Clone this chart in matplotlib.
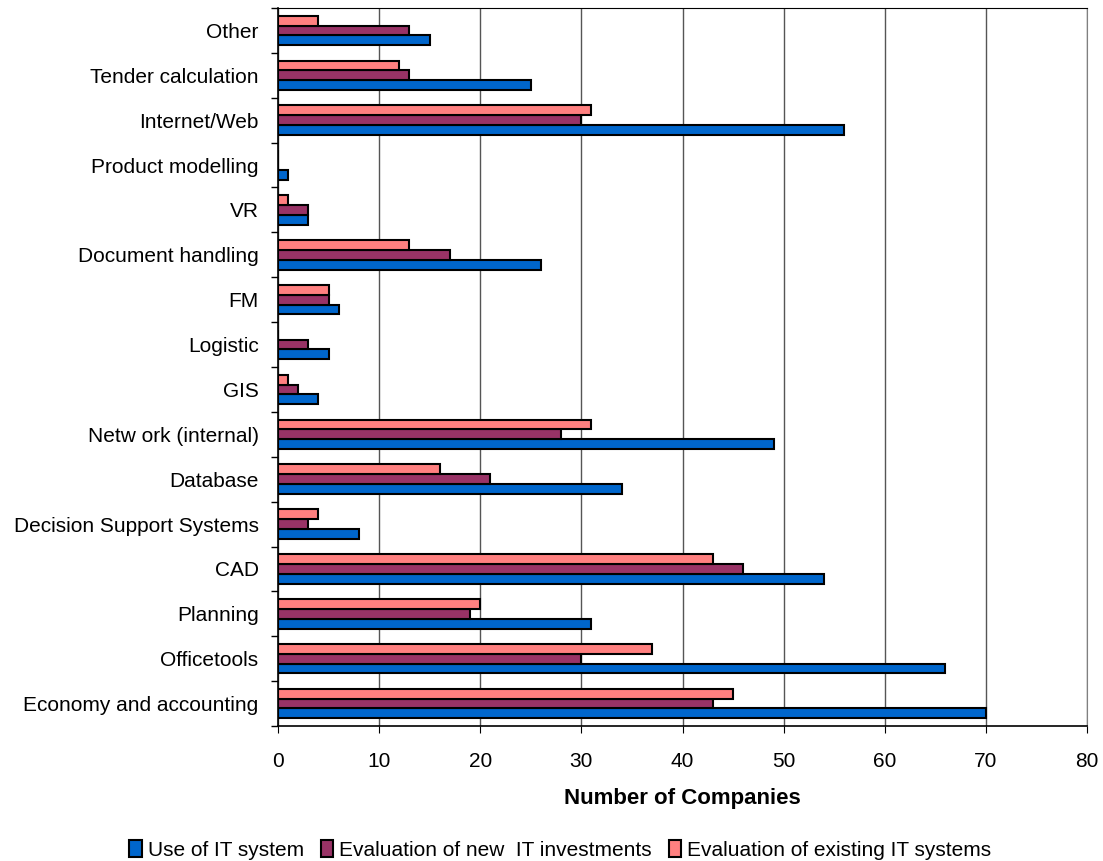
import numpy as np
import matplotlib.pyplot as plt

plt.rcParams['font.family'] = ['Liberation Sans', 'DejaVu Sans']

# Kategorie (od dołu do góry)
categories = ['Economy and accounting', 'Officetools', 'Planning', 'CAD',
              'Decision Support Systems', 'Database', 'Netw ork (internal)', 'GIS',
              'Logistic', 'FM', 'Document handling', 'VR', 'Product modelling',
              'Internet/Web', 'Tender calculation', 'Other']

use_it = [70, 66, 31, 54, 8, 34, 49, 4, 5, 6, 26, 3, 1, 56, 25, 15]
eval_new = [43, 30, 19, 46, 3, 21, 28, 2, 3, 5, 17, 3, 0, 30, 13, 13]
eval_existing = [45, 37, 20, 43, 4, 16, 31, 1, 0, 5, 13, 1, 0, 31, 12, 4]

series_names = ['Use of IT system', 'Evaluation of new  IT investments',
                'Evaluation of existing IT systems']
colors = ['#0066CC', '#993366', '#FF8080']

fig = plt.figure(figsize=(11.03, 8.61), dpi=100)
ax = fig.add_axes([278 / 1103, 1 - 726 / 861, (1087 - 278) / 1103, (726 - 8) / 861])

y = np.arange(len(categories))
h = 0.22
for i, (vals, name, c) in enumerate(zip([use_it, eval_new, eval_existing], series_names, colors)):
    ax.barh(y + (i - 1) * h, vals, height=h, color=c, edgecolor='black',
            linewidth=1.5, label=name, zorder=3)

ax.set_xlim(0, 80)
ax.set_ylim(-0.5, len(categories) - 0.5)
ax.set_xticks(np.arange(0, 81, 10))
ax.set_yticks(y)
ax.set_yticklabels(categories, fontsize=15)
ax.set_yticks(np.arange(-0.5, len(categories), 1), minor=True)
ax.tick_params(axis='y', which='major', length=0, pad=14)
ax.tick_params(axis='y', which='minor', length=5, direction='out', width=1)
ax.tick_params(axis='x', length=5, direction='out', labelsize=15, pad=14)
ax.grid(axis='x', color='#555555', linewidth=1, zorder=0)

ax.spines['left'].set_linewidth(1.2)
ax.spines['bottom'].set_linewidth(1.2)
ax.spines['right'].set_color('#808080')

ax.set_xlabel('Number of Companies', fontsize=16, fontweight='bold', labelpad=12)

ax.legend(loc='center', bbox_to_anchor=(0.508, 1 - 850 / 861), bbox_transform=fig.transFigure,
          ncol=3, frameon=False, fontsize=15, handlelength=0.6, handleheight=0.9,
          handletextpad=0.3, columnspacing=0.8)

fig.savefig('out.png', dpi=100)
